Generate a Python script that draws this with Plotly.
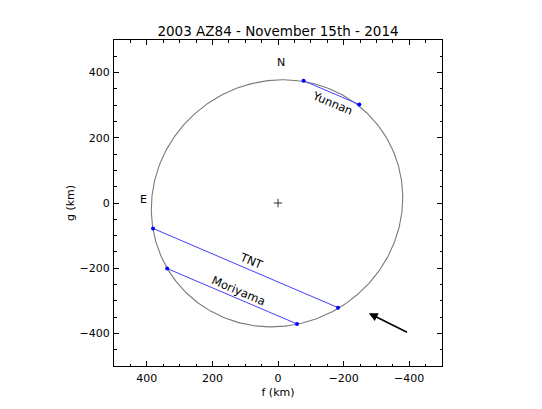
import numpy as np
import plotly.graph_objects as go

# Chord endpoints (f, g) in km
chord_names = ["Yunnan", "TNT", "Moriyama"]
chord_f = [[-78, -248], [381, -183], [338, -58]]
chord_g = [[375, 302], [-78, -321], [-201, -371]]

# Chord label positions
label_f = [-165, 81, 119]
label_g = [307, -179, -270]
label_angle = [23, 23, 23]

# Fitted ellipse parameters
ell_f0, ell_g0 = 3, -1
ell_a, ell_b = 390, 372
ell_theta_deg = -38

# Compass labels
compass_text = ["N", "E"]
compass_f = [-10, 411]
compass_g = [430, 11]

# Motion arrow (tail -> tip)
arrow_tail = (-398, -399)
arrow_tip = (-277, -338)

font = "DejaVu Sans"

t = np.linspace(0, 2 * np.pi, 400)
th = np.radians(ell_theta_deg)
ef = ell_f0 + ell_a * np.cos(t) * np.cos(th) - ell_b * np.sin(t) * np.sin(th)
eg = ell_g0 + ell_a * np.cos(t) * np.sin(th) + ell_b * np.sin(t) * np.cos(th)

fig = go.Figure()
fig.add_trace(go.Scatter(x=ef, y=eg, mode="lines",
                         line=dict(color="#7a7a7a", width=1.1),
                         hoverinfo="skip", showlegend=False))
for name, cf, cg in zip(chord_names, chord_f, chord_g):
    fig.add_trace(go.Scatter(x=cf, y=cg, mode="lines+markers", name=name,
                             line=dict(color="#4040ff", width=1),
                             marker=dict(color="#0000ff", size=4),
                             showlegend=False))
fig.add_trace(go.Scatter(x=[0], y=[0], mode="markers",
                         marker=dict(symbol="cross-thin", size=6,
                                     line=dict(color="black", width=0.8)),
                         showlegend=False))

for name, lf, lg, ang in zip(chord_names, label_f, label_g, label_angle):
    fig.add_annotation(x=lf, y=lg, text=name, showarrow=False, textangle=ang,
                       font=dict(family=font, size=11.5, color="black"))
for txt, cf, cg in zip(compass_text, compass_f, compass_g):
    fig.add_annotation(x=cf, y=cg, text=txt, showarrow=False,
                       font=dict(family=font, size=11, color="black"))
fig.add_annotation(x=arrow_tip[0], y=arrow_tip[1], ax=arrow_tail[0], ay=arrow_tail[1],
                   xref="x", yref="y", axref="x", ayref="y", text="",
                   showarrow=True, arrowhead=2, arrowsize=1.1, arrowwidth=1.6,
                   arrowcolor="black")

axis_common = dict(showgrid=False, zeroline=False, showline=True, linecolor="black",
                   linewidth=1, mirror="allticks", ticks="inside", ticklen=5,
                   tickcolor="black", dtick=200, tick0=0,
                   minor=dict(ticks="inside", ticklen=2.5, dtick=50, tickcolor="black"),
                   tickfont=dict(family=font, size=11, color="black"))

fig.update_xaxes(range=[500, -500], title=dict(text="f (km)", standoff=4,
                 font=dict(family=font, size=11, color="black")),
                 ticklabelstandoff=2, **axis_common)
fig.update_yaxes(range=[-500, 500], title=dict(text="g (km)", standoff=2,
                 font=dict(family=font, size=11, color="black")),
                 ticklabelstandoff=1, **axis_common)

# page body adds an 8px offset, so the figure is sized to fill the rest
W, H = 534, 401
fig.update_layout(
    width=W, height=H,
    margin=dict(l=106, r=100, t=32, b=41),
    paper_bgcolor="white", plot_bgcolor="white",
    title=dict(text="2003 AZ84 - November 15th - 2014", x=0.5, xref="paper",
               y=1 - 23 / H, yref="container", yanchor="middle", xanchor="center",
               font=dict(family=font, size=13.5, color="black")),
)

fig.write_html("out.html")
